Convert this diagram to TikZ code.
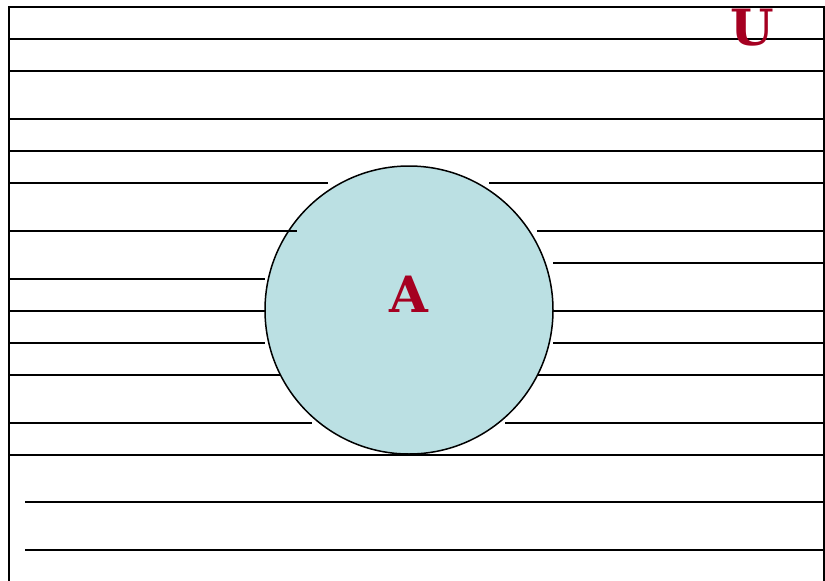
\documentclass[tikz,border=0pt]{standalone}
\usepackage{fontspec}
\setmainfont{DejaVu Serif}
\usetikzlibrary{positioning}
\definecolor{setfill}{HTML}{BBE0E3}
\definecolor{setred}{HTML}{A50021}

\begin{document}
\begin{tikzpicture}[x=1pt, y=-1pt,
  rl/.style={line width=2pt, black},
  st/.style={circle, draw=black, line width=1.5pt, fill=setfill,
             minimum size=288pt, inner sep=0pt},
  lb/.style={text=setred, font=\fontsize{50}{50}\selectfont\bfseries, inner sep=0pt}]
\useasboundingbox (0,0) rectangle (825,581);
% frame and ruled lines
\draw[rl] (9,581) -- (9,7) -- (824,7) -- (824,581);
\foreach \y in {39,71,119,151,311,375,455} \draw[rl] (9,\y) -- (824,\y);
\foreach \y in {502,550} \draw[rl] (25,\y) -- (824,\y);
% broken lines beside the set
\foreach \y/\xa in {183/328, 279/265, 343/265, 423/312} \draw[rl] (9,\y) -- (\xa,\y);
\foreach \y/\xb in {183/489, 231/537, 263/553, 343/553, 423/505} \draw[rl] (\xb,\y) -- (824,\y);
% the set
\node[st] (setA) at (409,310) {};
\draw[rl] (9,231) -- (297,231);
\node[lb] (labA) at ([yshift=16pt]setA.center) {A};
\node[lb] (labU) at (752,28) {U};
\end{tikzpicture}
\end{document}
